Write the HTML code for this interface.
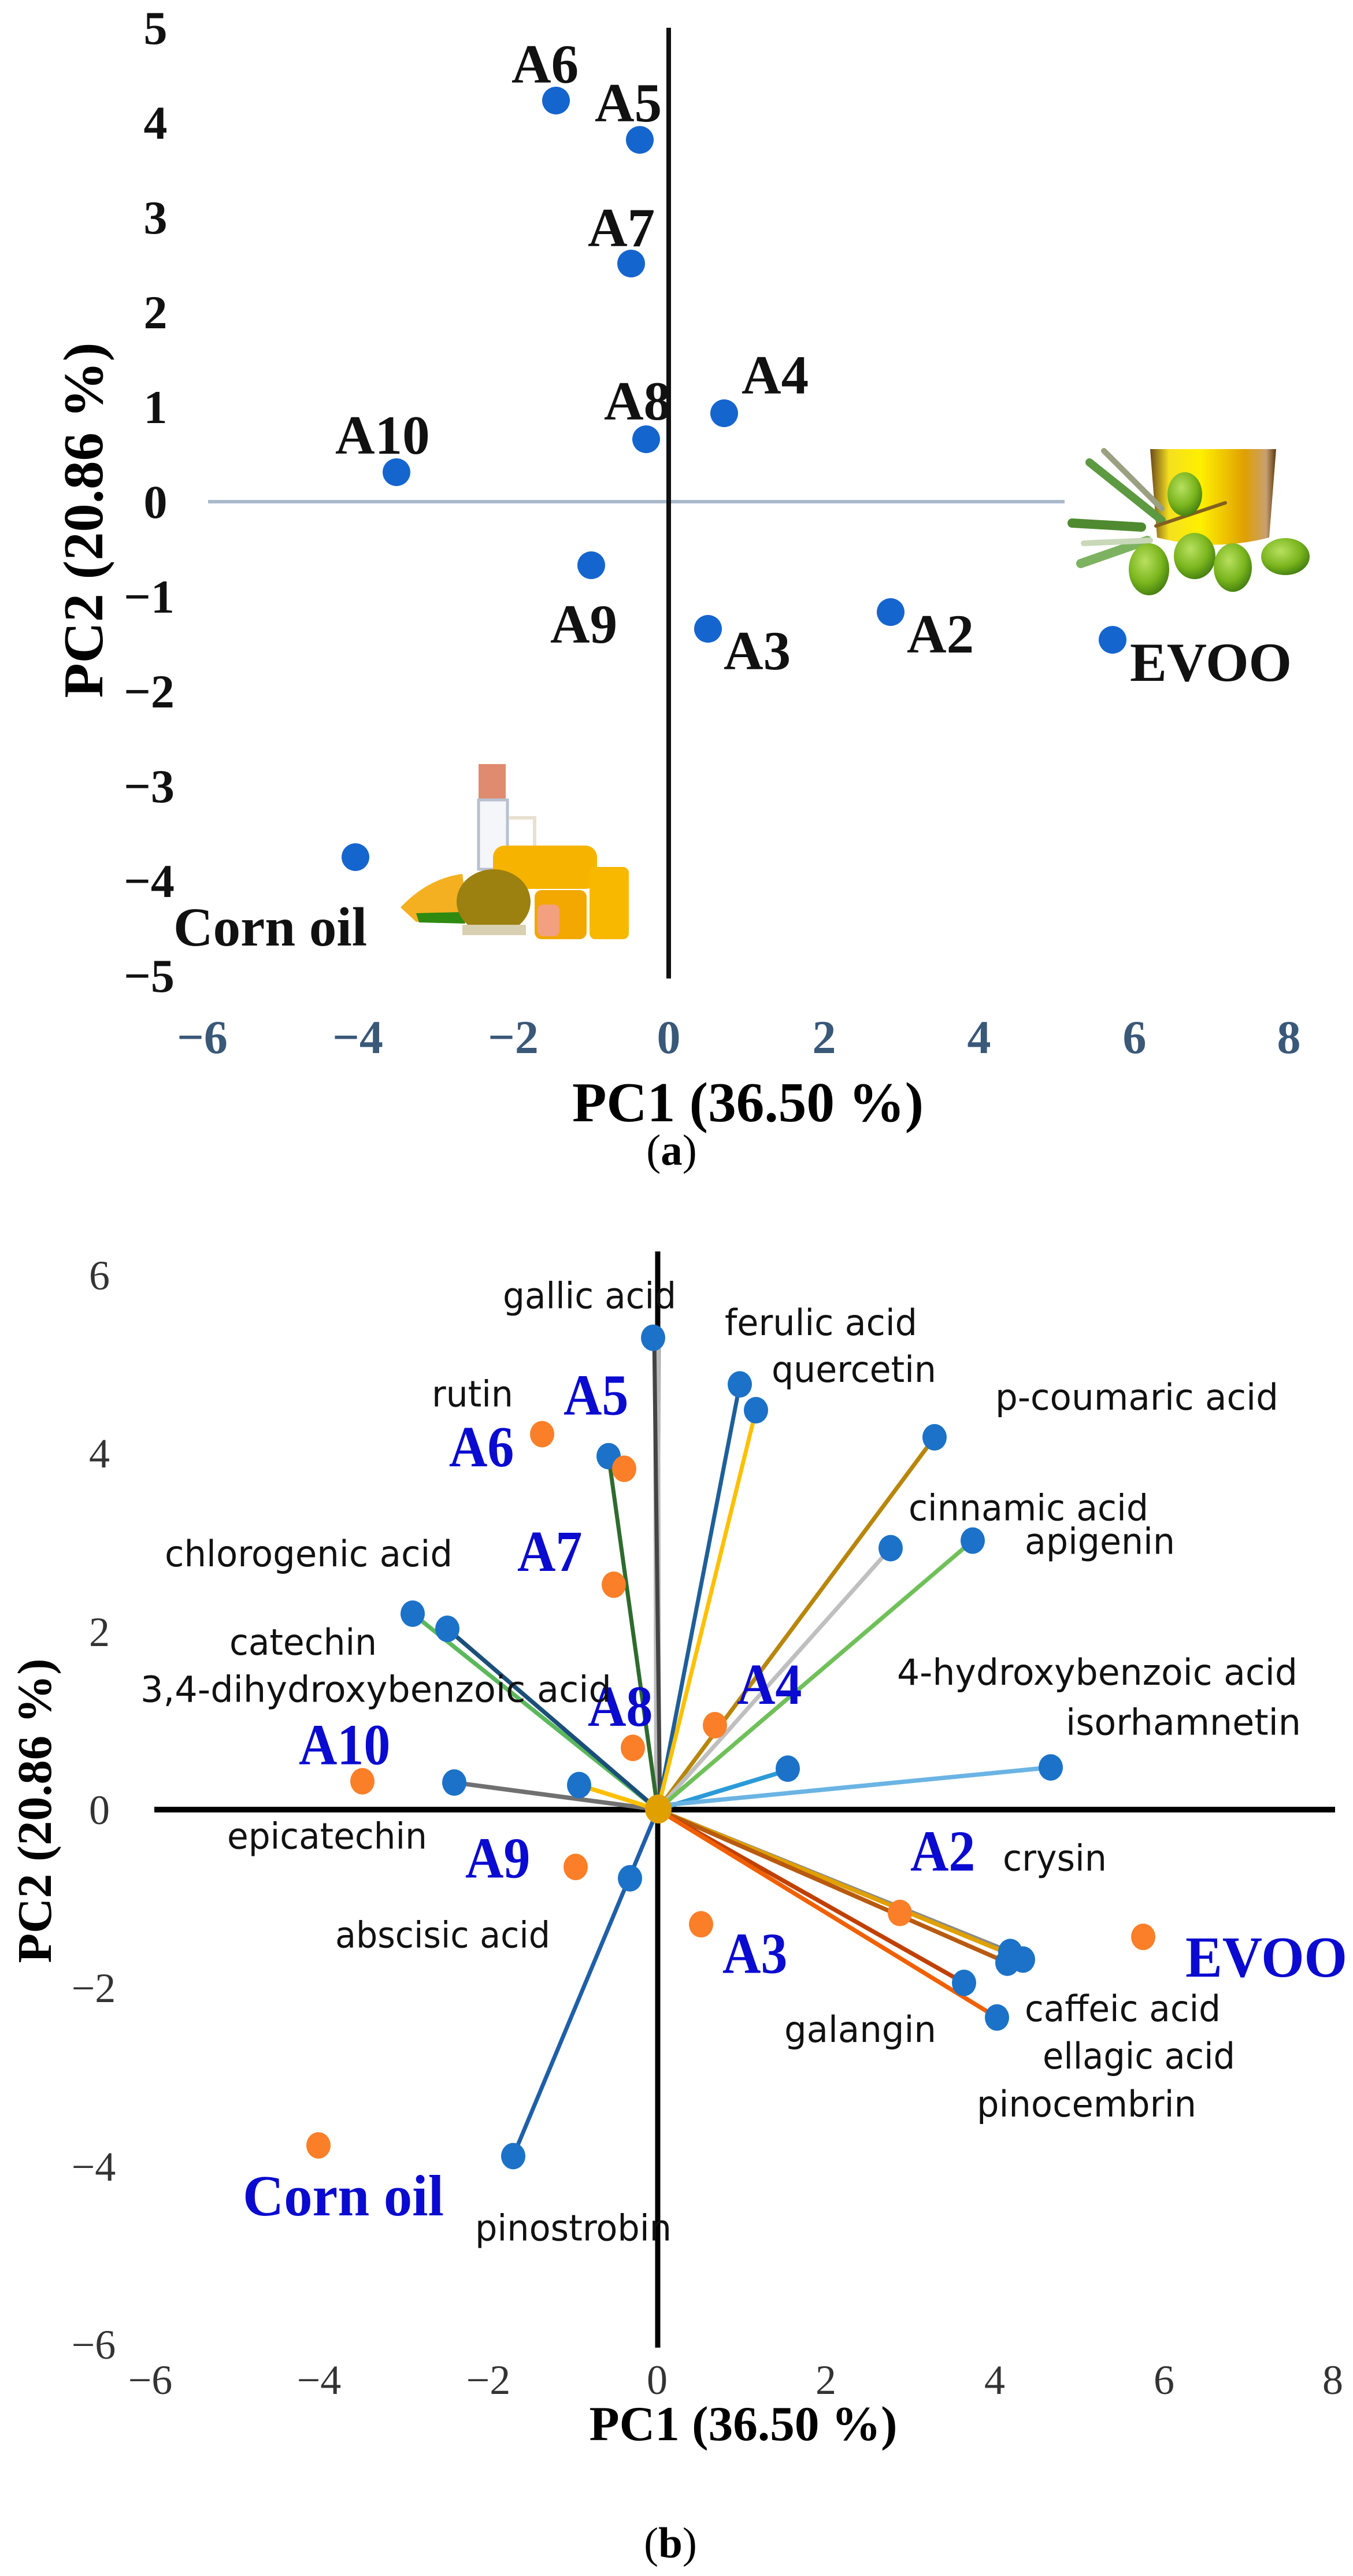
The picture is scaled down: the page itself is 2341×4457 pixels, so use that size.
<!DOCTYPE html>
<html><head><meta charset="utf-8"><style>html,body{margin:0;padding:0;background:#fff}svg{display:block}</style></head>
<body>
<svg width="2341" height="4457" viewBox="0 0 2341 4457" xmlns="http://www.w3.org/2000/svg">
<defs>
<linearGradient id="gl" x1="0" x2="1"><stop offset="0" stop-color="#6b4a1a"/><stop offset="0.15" stop-color="#f5e020"/><stop offset="0.4" stop-color="#fff000"/><stop offset="0.75" stop-color="#e0a000"/><stop offset="0.92" stop-color="#c8a070"/><stop offset="1" stop-color="#5a3a10"/></linearGradient>
<radialGradient id="ol" cx="0.4" cy="0.35" r="0.7"><stop offset="0" stop-color="#b8e060"/><stop offset="0.6" stop-color="#7ab51d"/><stop offset="1" stop-color="#3f7a10"/></radialGradient>
</defs>
<rect width="2341" height="4457" fill="#fff"/>

<!-- ===== Chart (a) ===== -->
<g font-family="Liberation Serif, serif" font-weight="bold" font-size="82" text-anchor="middle" fill="#111">
<text x="269" y="76">5</text><text x="269" y="240">4</text><text x="269" y="404">3</text><text x="269" y="568">2</text><text x="269" y="732">1</text><text x="269" y="896">0</text>
<text x="258" y="1060">−1</text><text x="258" y="1224">−2</text><text x="258" y="1388">−3</text><text x="258" y="1552">−4</text><text x="258" y="1716">−5</text>
</g>
<g font-family="Liberation Serif, serif" font-weight="bold" font-size="82" text-anchor="middle" fill="#3a5878">
<text x="350" y="1822">−6</text><text x="619" y="1822">−4</text><text x="888" y="1822">−2</text><text x="1157" y="1822">0</text><text x="1426" y="1822">2</text><text x="1694" y="1822">4</text><text x="1963" y="1822">6</text><text x="2230" y="1822">8</text>
</g>
<line x1="360" y1="868" x2="1842" y2="868" stroke="#a9b9cb" stroke-width="6"/>
<line x1="1157" y1="48" x2="1157" y2="1693" stroke="#111" stroke-width="8"/>

<!-- olive image -->
<g>
<path d="M1990 777 L2208 777 L2196 930 Q2100 955 2002 930 Z" fill="url(#gl)"/>
<g stroke-linecap="round" fill="none">
<line x1="1855" y1="905" x2="1975" y2="912" stroke="#4f8a30" stroke-width="16"/>
<line x1="1885" y1="800" x2="2010" y2="900" stroke="#5d9940" stroke-width="14"/>
<line x1="1910" y1="780" x2="2010" y2="880" stroke="#9aa080" stroke-width="10"/>
<line x1="1870" y1="975" x2="1985" y2="935" stroke="#7db360" stroke-width="16"/>
<line x1="1875" y1="940" x2="1990" y2="935" stroke="#c8d8b8" stroke-width="10"/>
<line x1="2000" y1="910" x2="2120" y2="870" stroke="#806020" stroke-width="6"/>
</g>
<ellipse cx="2050" cy="855" rx="30" ry="38" fill="url(#ol)"/>
<ellipse cx="1988" cy="985" rx="35" ry="45" fill="url(#ol)"/>
<ellipse cx="2067" cy="962" rx="36" ry="40" fill="url(#ol)"/>
<ellipse cx="2133" cy="982" rx="33" ry="42" fill="url(#ol)"/>
<ellipse cx="2224" cy="963" rx="42" ry="32" fill="url(#ol)"/>
</g>

<!-- corn image -->
<g>
<rect x="828" y="1322" width="47" height="62" fill="#e08a70"/>
<rect x="828" y="1384" width="50" height="120" fill="#f4f6fa" stroke="#b8c0d0" stroke-width="5"/>
<path d="M880 1415 L925 1415 L925 1470" fill="none" stroke="#e8e0d0" stroke-width="6"/>
<rect x="853" y="1463" width="180" height="75" rx="20" fill="#f6b400"/>
<rect x="1020" y="1500" width="68" height="125" rx="10" fill="#f8b800"/>
<rect x="925" y="1540" width="90" height="85" rx="12" fill="#f2a800"/>
<path d="M693 1570 Q740 1520 800 1512 L810 1590 L720 1595 Z" fill="#f4b020"/>
<path d="M720 1580 L800 1578 L805 1598 L725 1596 Z" fill="#2e8a10"/>
<ellipse cx="854" cy="1560" rx="64" ry="56" fill="#9c8010"/>
<rect x="930" y="1565" width="38" height="55" rx="10" fill="#f2a080"/>
<rect x="800" y="1600" width="110" height="18" fill="#d8d0b0"/>
</g>

<g fill="#1565cf">
<circle cx="962" cy="174" r="24"/><circle cx="1107" cy="242" r="24"/><circle cx="1092" cy="456" r="24"/><circle cx="1118" cy="760" r="24"/><circle cx="1253" cy="715" r="24"/><circle cx="686" cy="817" r="24"/><circle cx="1023" cy="978" r="24"/><circle cx="1225" cy="1088" r="24"/><circle cx="1541" cy="1059" r="24"/><circle cx="1925" cy="1107" r="24"/><circle cx="615" cy="1483" r="24"/>
</g>
<g font-family="Liberation Serif, serif" font-weight="bold" font-size="95" fill="#111">
<text x="885" y="143">A6</text><text x="1029" y="210">A5</text><text x="1017" y="426">A7</text><text x="1045" y="726">A8</text><text x="1283" y="681">A4</text><text x="580" y="785">A10</text><text x="952" y="1112">A9</text><text x="1252" y="1158">A3</text><text x="1569" y="1129">A2</text><text x="1955" y="1178" textLength="280" lengthAdjust="spacingAndGlyphs">EVOO</text><text x="300" y="1636">Corn oil</text>
</g>
<text x="1294" y="1940" font-family="Liberation Serif, serif" font-weight="bold" font-size="97" text-anchor="middle" textLength="608" lengthAdjust="spacingAndGlyphs">PC1 (36.50 %)</text>
<text transform="translate(177,900) rotate(-90)" font-family="Liberation Serif, serif" font-weight="bold" font-size="97" text-anchor="middle" textLength="615" lengthAdjust="spacingAndGlyphs">PC2 (20.86 %)</text>

<text x="1162" y="2015" font-family="Liberation Serif, serif" font-size="75" text-anchor="middle">(<tspan font-weight="bold">a</tspan>)</text>

<!-- ===== Chart (b) ===== -->
<g font-family="Liberation Serif, serif" font-size="72" text-anchor="middle" fill="#333">
<text x="172" y="2231">6</text><text x="172" y="2539">4</text><text x="172" y="2848">2</text><text x="172" y="3156">0</text><text x="162" y="3464">−2</text><text x="162" y="3773">−4</text><text x="162" y="4081">−6</text>
<text x="260" y="4142">−6</text><text x="552" y="4142">−4</text><text x="845" y="4142">−2</text><text x="1137" y="4142">0</text><text x="1429" y="4142">2</text><text x="1721" y="4142">4</text><text x="2014" y="4142">6</text><text x="2306" y="4142">8</text>
</g>

<g transform="translate(0,3131) scale(1,1.09) translate(0,-3131)">
<line x1="267" y1="3131" x2="2310" y2="3131" stroke="#000" stroke-width="9"/>
<line x1="1138" y1="2245" x2="1138" y2="3985" stroke="#000" stroke-width="9"/>

<g stroke-width="7" stroke-linecap="round" fill="none">
<line x1="1138" y1="3131" x2="1136" y2="2382" stroke="#bbb" stroke-width="12"/>
<line x1="1142" y1="3131" x2="1132" y2="2382" stroke="#444"/>
<line x1="1138" y1="3131" x2="1280" y2="2456" stroke="#1f5f99"/>
<line x1="1138" y1="3131" x2="1308" y2="2497" stroke="#ffc000"/>
<line x1="1138" y1="3131" x2="1617" y2="2540" stroke="#b8860b"/>
<line x1="1138" y1="3131" x2="1541" y2="2716" stroke="#bfbfbf"/>
<line x1="1138" y1="3131" x2="1683" y2="2704" stroke="#70c05a"/>
<line x1="1138" y1="3131" x2="1365" y2="3068" stroke="#2a9ad8"/>
<line x1="1138" y1="3125" x2="1818" y2="3064" stroke="#6ab4e4"/>
<line x1="1138" y1="3131" x2="714" y2="2820" stroke="#5cb85c"/>
<line x1="1138" y1="3131" x2="774" y2="2844" stroke="#1b4f7a"/>
<line x1="1138" y1="3131" x2="1053" y2="2570" stroke="#2e6b2e"/>
<line x1="1138" y1="3131" x2="786" y2="3088" stroke="#707070"/>
<line x1="1138" y1="3131" x2="1002" y2="3092" stroke="#ffc000"/>
<line x1="1138" y1="3131" x2="888" y2="3681" stroke="#1f5fa8"/>
<line x1="1138" y1="3131" x2="1748" y2="3357" stroke="#8a8a8a"/>
<line x1="1138" y1="3131" x2="1770" y2="3369" stroke="#e0a000"/>
<line x1="1138" y1="3131" x2="1743" y2="3374" stroke="#b85a10"/>
<line x1="1138" y1="3131" x2="1668" y2="3406" stroke="#c04000"/>
<line x1="1138" y1="3131" x2="1725" y2="3461" stroke="#f06000"/>
</g>
<g fill="#1b72c8">
<circle cx="1130" cy="2382" r="21"/><circle cx="1280" cy="2456" r="21"/><circle cx="1308" cy="2497" r="21"/><circle cx="1617" cy="2540" r="21"/><circle cx="1541" cy="2716" r="21"/><circle cx="1683" cy="2704" r="21"/><circle cx="1363" cy="3066" r="21"/><circle cx="1818" cy="3064" r="21"/><circle cx="714" cy="2820" r="21"/><circle cx="774" cy="2844" r="21"/><circle cx="1053" cy="2570" r="21"/><circle cx="786" cy="3088" r="21"/><circle cx="1002" cy="3092" r="21"/><circle cx="1090" cy="3240" r="21"/><circle cx="888" cy="3681" r="21"/><circle cx="1748" cy="3357" r="21"/><circle cx="1770" cy="3369" r="21"/><circle cx="1743" cy="3374" r="21"/><circle cx="1668" cy="3406" r="21"/><circle cx="1725" cy="3461" r="21"/>
</g>
<g fill="#fb7f28">
<circle cx="938" cy="2535" r="21"/><circle cx="1080" cy="2590" r="21"/><circle cx="1062" cy="2774" r="21"/><circle cx="1095" cy="3033" r="21"/><circle cx="1237" cy="2997" r="21"/><circle cx="627" cy="3086" r="21"/><circle cx="996" cy="3222" r="21"/><circle cx="1213" cy="3313" r="21"/><circle cx="1557" cy="3295" r="21"/><circle cx="1978" cy="3333" r="21"/><circle cx="551" cy="3664" r="21"/>
</g>
<circle cx="1139" cy="3130" r="23" fill="#e0a000"/>

<g font-family="Liberation Serif, serif" font-weight="bold" font-size="92" fill="#0a0ad0">
<text x="975" y="2504">A5</text><text x="777" y="2586">A6</text><text x="895" y="2752">A7</text><text x="1017" y="2998">A8</text><text x="1275" y="2963">A4</text><text x="517" y="3059">A10</text><text x="805" y="3239">A9</text><text x="1250" y="3390">A3</text><text x="1575" y="3228">A2</text><text x="2051" y="3396" textLength="280" lengthAdjust="spacingAndGlyphs">EVOO</text><text x="420" y="3775" textLength="348" lengthAdjust="spacingAndGlyphs">Corn  oil</text>
</g>
<g font-family="DejaVu Sans, sans-serif" font-size="57" fill="#111">
<text x="870" y="2335" textLength="300" lengthAdjust="spacingAndGlyphs">gallic acid</text>
<text x="1254" y="2378" textLength="333" lengthAdjust="spacingAndGlyphs">ferulic acid</text>
<text x="1335" y="2452" textLength="285" lengthAdjust="spacingAndGlyphs">quercetin</text>
<text x="747" y="2491" textLength="141" lengthAdjust="spacingAndGlyphs">rutin</text>
<text x="1722" y="2496" textLength="490" lengthAdjust="spacingAndGlyphs">p-coumaric  acid</text>
<text x="1572" y="2672" textLength="415" lengthAdjust="spacingAndGlyphs">cinnamic acid</text>
<text x="1773" y="2725" textLength="260" lengthAdjust="spacingAndGlyphs">apigenin</text>
<text x="285" y="2745" textLength="498" lengthAdjust="spacingAndGlyphs">chlorogenic  acid</text>
<text x="397" y="2885" textLength="255" lengthAdjust="spacingAndGlyphs">catechin</text>
<text x="243" y="2960" textLength="815" lengthAdjust="spacingAndGlyphs">3,4-dihydroxybenzoic  acid</text>
<text x="1552" y="2933" textLength="693" lengthAdjust="spacingAndGlyphs">4-hydroxybenzoic  acid</text>
<text x="1844" y="3012" textLength="407" lengthAdjust="spacingAndGlyphs">isorhamnetin</text>
<text x="393" y="3193" textLength="346" lengthAdjust="spacingAndGlyphs">epicatechin</text>
<text x="1735" y="3228" textLength="180" lengthAdjust="spacingAndGlyphs">crysin</text>
<text x="580" y="3350" textLength="372" lengthAdjust="spacingAndGlyphs">abscisic acid</text>
<text x="1357" y="3500" textLength="263" lengthAdjust="spacingAndGlyphs">galangin</text>
<text x="1773" y="3467" textLength="339" lengthAdjust="spacingAndGlyphs">caffeic acid</text>
<text x="1804" y="3542" textLength="333" lengthAdjust="spacingAndGlyphs">ellagic acid</text>
<text x="1690" y="3618" textLength="380" lengthAdjust="spacingAndGlyphs">pinocembrin</text>
<text x="822" y="3815" textLength="340" lengthAdjust="spacingAndGlyphs">pinostrobin</text>
</g>
</g>

<text x="1286" y="4222" font-family="Liberation Serif, serif" font-weight="bold" font-size="85" text-anchor="middle" textLength="533" lengthAdjust="spacingAndGlyphs">PC1 (36.50 %)</text>
<text transform="translate(88,3133) rotate(-90)" font-family="Liberation Serif, serif" font-weight="bold" font-size="84" text-anchor="middle" textLength="527" lengthAdjust="spacingAndGlyphs">PC2 (20.86 %)</text>

<text x="1160" y="4425" font-family="Liberation Serif, serif" font-size="75" text-anchor="middle">(<tspan font-weight="bold">b</tspan>)</text>
</svg>
</body></html>
